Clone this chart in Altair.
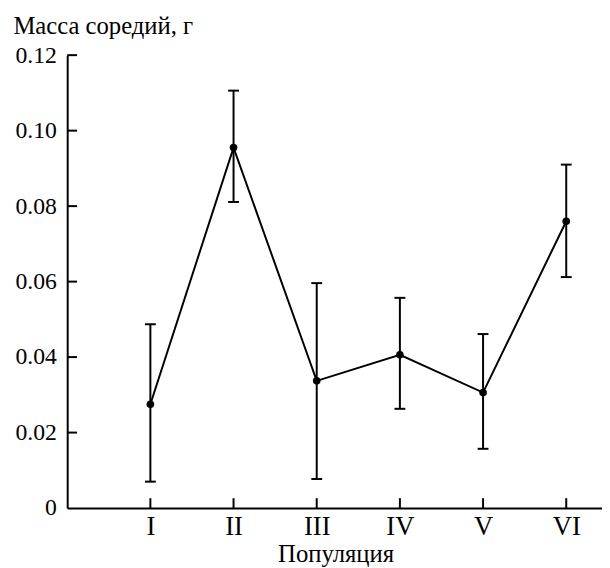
import altair as alt
import pandas as pd

categories = ["I", "II", "III", "IV", "V", "VI"]
positions = [1, 2, 3, 4, 5, 6]
mean_mass = [0.0275, 0.0955, 0.0337, 0.0406, 0.0306, 0.0760]
upper_mass = [0.0487, 0.1106, 0.0596, 0.0557, 0.0461, 0.0910]
lower_mass = [0.0070, 0.0811, 0.0077, 0.0263, 0.0157, 0.0612]
y_ticks = [0, 0.02, 0.04, 0.06, 0.08, 0.10, 0.12]

FONT = "Liberation Serif"
W, H = 542, 459
XMAX = 6.43

df = pd.DataFrame({"pos": positions, "cat": categories, "m": mean_mass,
                   "lo": lower_mass, "hi": upper_mass})
yt = pd.DataFrame({"m": y_ticks[1:]})

label_arr = "[''," + ",".join("'%s'" % c for c in categories) + "]"

xscale = alt.Scale(domain=[0, XMAX], nice=False, zero=True)
yscale = alt.Scale(domain=[0, 0.12], nice=False, zero=True)

xaxis = alt.Axis(values=positions, labelExpr=label_arr + "[datum.value]",
                 title="Популяция")
yaxis = alt.Axis(values=y_ticks,
                 labelExpr="datum.value == 0 ? '0' : format(datum.value, '.2f')",
                 title="Масса соредий, г")

base = alt.Chart(df)

line = base.mark_line(color="black", strokeWidth=2).encode(
    x=alt.X("pos:Q", scale=xscale, axis=xaxis),
    y=alt.Y("m:Q", scale=yscale, axis=yaxis),
)
pts = base.mark_circle(color="black", opacity=1, size=60).encode(
    x="pos:Q", y="m:Q")
bars = base.mark_rule(color="black", strokeWidth=2).encode(
    x="pos:Q", y="lo:Q", y2="hi:Q")
cap_lo = base.mark_tick(color="black", orient="horizontal", size=11,
                        thickness=2, opacity=1).encode(x="pos:Q", y="lo:Q")
cap_hi = base.mark_tick(color="black", orient="horizontal", size=11,
                        thickness=2, opacity=1).encode(x="pos:Q", y="hi:Q")
ytick = alt.Chart(yt).mark_rule(color="black", strokeWidth=2).encode(
    y="m:Q", x=alt.value(0), x2=alt.value(10))
xtick = base.mark_rule(color="black", strokeWidth=2).encode(
    x="pos:Q", y=alt.value(H), y2=alt.value(H - 10))

chart = alt.layer(line, bars, cap_lo, cap_hi, pts, ytick, xtick).properties(
    width=W, height=H,
    autosize=alt.AutoSizeParams(type="none"),
    padding={"left": 60, "top": 44, "right": 0, "bottom": 60},
    background="white",
).configure_view(stroke=None).configure_axis(
    labelFont=FONT, titleFont=FONT, labelColor="black", titleColor="black",
    titleFontSize=25, titleFontWeight="normal", domainColor="black",
    domainWidth=2, ticks=False, tickSize=0, grid=False, labelFlush=False,
    labelOverlap=False,
).configure_axisX(
    labelFontSize=27, labelBaseline="alphabetic", labelPadding=27,
    titleX=272, titleY=54, titleBaseline="alphabetic",
).configure_axisY(
    labelFontSize=24, labelPadding=11, labelBaseline="middle",
    titleAngle=0, titleAlign="left", titleBaseline="alphabetic",
    titleX=-55, titleY=-22,
)

chart.save("out.html", embed_options={"renderer": "svg", "actions": False})
